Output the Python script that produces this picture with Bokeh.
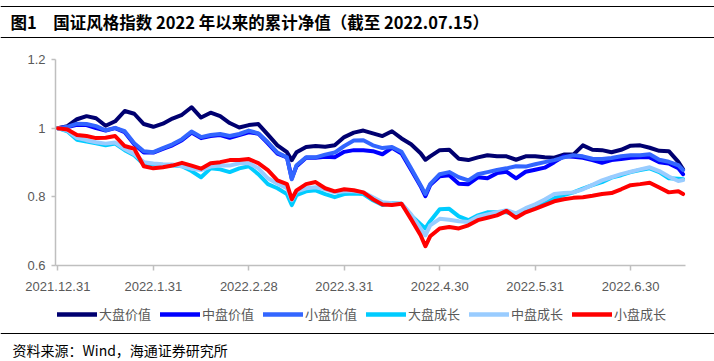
from bokeh.plotting import figure
from bokeh.models import Range1d, FixedTicker, NumeralTickFormatter, Legend, LegendItem
from bokeh.layouts import column
from bokeh.embed import file_html
from bokeh.resources import INLINE
from bokeh.core.properties import value

# trading-day index since 2021.12.31
day = [0, 2, 4, 6, 8, 10, 12, 14, 16, 18, 20, 22, 24, 26, 28, 30, 32, 34, 36, 38,
       40, 42, 44, 46, 48, 49, 50, 52, 54, 56, 58, 60, 62, 64, 66, 68, 70, 72, 74, 76,
       77, 78, 80, 82, 84, 86, 88, 90, 92, 94, 96, 98, 100, 102, 104, 106, 108, 110,
       112, 114, 116, 118, 120, 122, 124, 126, 128, 130, 131]

large_value = [1.000, 1.006, 1.026, 1.035, 1.029, 1.007, 1.020, 1.050, 1.042, 1.012,
               1.004, 1.013, 1.028, 1.039, 1.061, 1.031, 1.045, 1.035, 1.015, 1.002,
               1.009, 1.012, 0.981, 0.950, 0.930, 0.907,
               0.930, 0.945, 0.948, 0.946, 0.950, 0.974, 0.987, 0.993, 0.985, 0.977, 0.991, 0.970, 0.953, 0.927,
               0.908,
               0.918, 0.936, 0.937, 0.911, 0.907, 0.915, 0.921, 0.918, 0.918, 0.908,
               0.918, 0.918, 0.915, 0.914, 0.923, 0.923, 0.950, 0.937, 0.936, 0.930,
               0.937, 0.949, 0.950, 0.943, 0.934, 0.933, 0.902, 0.880]

mid_value = [1.000, 1.003, 1.010, 1.009, 1.000, 0.993, 1.000, 0.988, 0.953, 0.929,
             0.929, 0.940, 0.950, 0.965, 0.987, 0.971, 0.977, 0.980, 0.972, 0.980,
             0.988, 0.984, 0.956, 0.926, 0.915, 0.854,
             0.889, 0.914, 0.914, 0.917, 0.915, 0.931, 0.936, 0.936, 0.933, 0.924, 0.943, 0.926, 0.879, 0.831,
             0.802,
             0.834, 0.860, 0.863, 0.838, 0.837, 0.857, 0.854, 0.869, 0.873, 0.854,
             0.873, 0.879, 0.885, 0.901, 0.918, 0.917, 0.914, 0.907, 0.899, 0.907,
             0.910, 0.914, 0.915, 0.915, 0.901, 0.897, 0.883, 0.866]

small_value = [1.000, 1.004, 1.013, 1.012, 1.006, 0.994, 1.001, 0.991, 0.956, 0.933,
               0.930, 0.942, 0.953, 0.968, 0.990, 0.974, 0.980, 0.983, 0.977, 0.983,
               0.993, 0.985, 0.959, 0.929, 0.915, 0.851,
               0.892, 0.915, 0.915, 0.923, 0.929, 0.948, 0.964, 0.965, 0.950, 0.942, 0.945, 0.931, 0.883, 0.834,
               0.808,
               0.837, 0.866, 0.872, 0.857, 0.848, 0.866, 0.872, 0.878, 0.883, 0.889,
               0.888, 0.895, 0.901, 0.907, 0.915, 0.921, 0.918, 0.911, 0.910, 0.913,
               0.918, 0.921, 0.921, 0.924, 0.908, 0.902, 0.892, 0.878]

large_growth = [1.000, 0.991, 0.966, 0.961, 0.956, 0.950, 0.955, 0.936, 0.921, 0.895,
                0.894, 0.892, 0.892, 0.889, 0.875, 0.857, 0.883, 0.880, 0.872, 0.883,
                0.889, 0.866, 0.837, 0.825, 0.808, 0.776,
                0.805, 0.816, 0.819, 0.808, 0.799, 0.808, 0.810, 0.808, 0.790, 0.776, 0.781, 0.780, 0.746, 0.720,
                0.708,
                0.729, 0.764, 0.765, 0.743, 0.732, 0.746, 0.755, 0.755, 0.755, 0.748,
                0.761, 0.771, 0.781, 0.796, 0.805, 0.813, 0.824, 0.834, 0.843, 0.856,
                0.863, 0.872, 0.878, 0.883, 0.872, 0.854, 0.853, 0.851]

mid_growth = [1.000, 0.993, 0.972, 0.965, 0.959, 0.955, 0.958, 0.939, 0.924, 0.901,
              0.897, 0.895, 0.894, 0.889, 0.882, 0.878, 0.888, 0.891, 0.891, 0.898,
              0.898, 0.883, 0.854, 0.838, 0.825, 0.790,
              0.816, 0.825, 0.828, 0.822, 0.813, 0.816, 0.816, 0.813, 0.799, 0.784, 0.781, 0.780, 0.749, 0.708,
              0.688,
              0.717, 0.736, 0.733, 0.729, 0.727, 0.742, 0.749, 0.755, 0.761, 0.752,
              0.767, 0.778, 0.792, 0.808, 0.811, 0.813, 0.822, 0.835, 0.848, 0.857,
              0.866, 0.873, 0.880, 0.886, 0.875, 0.859, 0.846, 0.849]

small_growth = [1.000, 0.996, 0.980, 0.977, 0.971, 0.972, 0.977, 0.948, 0.940, 0.889,
                0.883, 0.886, 0.891, 0.899, 0.891, 0.882, 0.898, 0.901, 0.907, 0.907,
                0.910, 0.898, 0.878, 0.848, 0.837, 0.793,
                0.819, 0.837, 0.843, 0.825, 0.816, 0.822, 0.819, 0.813, 0.793, 0.778, 0.776, 0.780, 0.735, 0.688,
                0.656,
                0.685, 0.708, 0.712, 0.708, 0.717, 0.732, 0.739, 0.746, 0.759, 0.739,
                0.755, 0.765, 0.776, 0.787, 0.793, 0.797, 0.799, 0.803, 0.808, 0.811,
                0.822, 0.834, 0.837, 0.841, 0.827, 0.813, 0.816, 0.808]

series_names = ["大盘价值", "中盘价值", "小盘价值", "大盘成长", "中盘成长", "小盘成长"]
series_colors = ["#000070", "#0000FF", "#3366FF", "#00CCFF", "#99CCFF", "#FF0000"]

tick_days = [0, 20, 40, 60, 80, 100, 120]
tick_labels = ["2021.12.31", "2022.1.31", "2022.2.28", "2022.3.31", "2022.4.30", "2022.5.31", "2022.6.30"]

title_text = "图1　国证风格指数 2022 年以来的累计净值（截至 2022.07.15）"
source_text = "资料来源：Wind，海通证券研究所"

CJK = "Noto Sans CJK SC"
W = 714

# ---- title strip (page y 0..40) ----
pt = figure(width=W, height=40, x_range=Range1d(0, W), y_range=Range1d(0, 40),
            output_backend="svg", toolbar_location=None, x_axis_type=None, y_axis_type=None,
            min_border=0, outline_line_color=None, frame_align=False)
pt.grid.visible = False
pt.segment(x0=[0, 0], y0=[34, 3], x1=[W, W], y1=[34, 3], line_color="#000000", line_width=1.2)
pt.text(x=[10], y=[19], text=[title_text], text_font=value(CJK), text_font_style="bold",
        text_font_size="16.5px", text_color="#000000", text_baseline="middle", text_align="left")

# ---- main chart (page y 40..297) ----
p = figure(width=W, height=257, x_range=Range1d(-0.5, 131.5), y_range=Range1d(0.6, 1.2),
           output_backend="svg", toolbar_location=None,
           min_border_left=55, min_border_right=29, min_border_top=19, min_border_bottom=32,
           outline_line_color=None, frame_align=False)
p.grid.visible = False

data = [large_value, mid_value, small_value, large_growth, mid_growth, small_growth]
for vals, col in zip(data, series_colors):
    p.line(day, vals, line_color=col, line_width=4, line_join="round", line_cap="round")

p.xaxis.ticker = FixedTicker(ticks=tick_days)
p.xaxis.major_label_overrides = {d: l for d, l in zip(tick_days, tick_labels)}
p.yaxis.ticker = FixedTicker(ticks=[0.6, 0.8, 1.0, 1.2])
p.yaxis.formatter = NumeralTickFormatter(format="0.[0]")
for ax in (p.xaxis[0], p.yaxis[0]):
    ax.axis_line_color = "#BFBFBF"
    ax.axis_line_width = 1.5
    ax.major_tick_line_color = "#BFBFBF"
    ax.major_tick_line_width = 1.5
    ax.minor_tick_line_color = None
    ax.major_tick_in = 0
    ax.major_label_text_font = "Liberation Sans"
    ax.major_label_text_font_size = "13px"
    ax.major_label_text_color = "#595959"
p.xaxis.major_tick_out = 5
p.xaxis.major_label_standoff = 11
p.yaxis.major_tick_out = 4
p.yaxis.major_label_standoff = 6

# ---- legend + source strip (page y 297..361) ----
pb = figure(width=W, height=64, x_range=Range1d(0, W), y_range=Range1d(0, 64),
            output_backend="svg", toolbar_location=None, x_axis_type=None, y_axis_type=None,
            min_border=0, outline_line_color=None, frame_align=False)
pb.grid.visible = False
keys = []
for name, col in zip(series_names, series_colors):
    # legend proxy: a key line kept outside the visible strip
    r = pb.line(x=[-90, -80], y=[-90, -90], line_color=col, line_width=4.5, line_cap="round")
    keys.append(LegendItem(label=name, renderers=[r]))
legend = Legend(items=keys, orientation="horizontal", location=(57, 38),
                border_line_color=None, background_fill_alpha=0, padding=0, margin=0,
                spacing=9, glyph_width=40, glyph_height=14, label_height=14, label_standoff=2,
                label_text_font=CJK, label_text_font_size="13px", label_text_color="#595959")
pb.add_layout(legend)
pb.segment(x0=[0], y0=[28], x1=[W], y1=[28], line_color="#000000", line_width=1.2)
pb.text(x=[12], y=[12], text=[source_text], text_font=value(CJK), text_font_size="14px",
        text_color="#000000", text_baseline="middle", text_align="left")

layout = column(pt, p, pb, spacing=0)
open("out.html", "w").write(file_html(layout, INLINE))
